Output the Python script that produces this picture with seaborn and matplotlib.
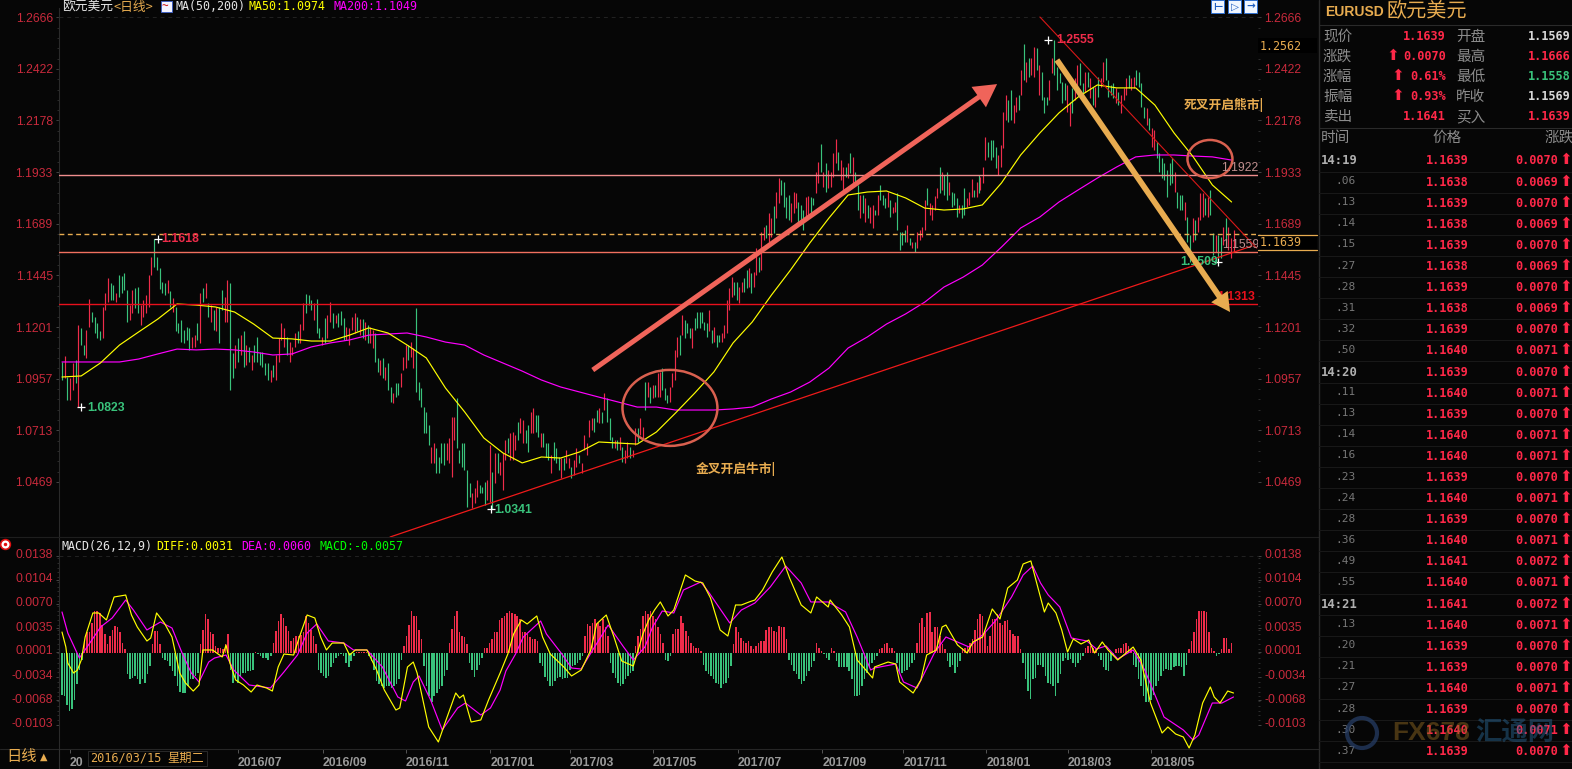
import numpy as np
import pandas as pd
import seaborn as sns
import matplotlib
matplotlib.use("Agg")
import matplotlib.pyplot as plt
from matplotlib.patches import Ellipse, Rectangle
from matplotlib.lines import Line2D
from matplotlib.transforms import Affine2D

# ---------- data: prices in 1/10000, (high, low) pairs, r = rising, g = falling ----------
hilo_a = [
 11038,10951, 11062,10959, 10967,10857, 10959,10857, 11030,10904, 11046,10936, 11211,10823, 11195,11117, 11117,11069, 11188,11054,
 11334,11203, 11274,11227, 11250,11172, 11219,11148, 11180,11140, 11295,11148, 11361,11282, 11432,11321, 11408,11329, 11400,11329,
 11361,11321, 11447,11345, 11444,11361, 11455,11377, 11377,11227, 11306,11235, 11377,11266, 11384,11290, 11392,11266, 11306,11211,
 11329,11250, 11353,11266, 11447,11298, 11534,11447, 11618,11487, 11534,11471, 11479,11380, 11416,11361, 11408,11353, 11424,11361,
 11369,11298, 11337,11274, 11298,11180, 11219,11172, 11235,11132, 11188,11125, 11203,11140, 11195,11093, 11156,11101, 11164,11109,
 11219,11140, 11361,11125, 11384,11321, 11408,11337, 11313,11250, 11306,11227, 11282,11188, 11298,11180, 11298,11125, 11377,11282,
 11345,11227, 11424,11227, 11411,10904, 11077,10959, 11117,11006, 11148,11038, 11164,11069, 11180,11014, 11117,11022, 11109,11038,
 11069,10998, 11117,11038, 11156,11038, 11085,11022, 11085,11014, 11030,10975, 11030,10951, 10998,10943, 11022,10967, 11069,10951,
 11148,11038, 11222,11140, 11195,11109, 11156,11069, 11132,11038, 11109,11069, 11172,11109, 11180,11125, 11216,11125, 11313,11188,
 11358,11266, 11353,11306, 11329,11282, 11313,11235, 11334,11172, 11195,11148, 11156,11117, 11243,11125, 11258,11148, 11321,11227,
 11266,11195, 11258,11219, 11266,11203, 11277,11211, 11243,11140, 11203,11140, 11195,11117, 11247,11188, 11266,11172, 11247,11180]
dirs_a = ("grgrrgrggr" "rggggrrrgg" "rggggrrggr" "rrrrgggggr" "grggggggrr"
          "grgrgrgrgg" "rrggrgrgrg" "rggggggrgr" "rrrgrrrgrr" "gggrggrgrr" "grgggrrrrg")

hilo_b = [
 11238,11164, 11238,11148, 11227,11140, 11211,11124, 11203,11124, 11187,11101, 11172,11038, 11053,10990, 11045,10975, 11053,10959,
 11014,10951, 11030,10904, 10920,10849, 10888,10841, 10935,10872, 10935,10880, 10982,10920, 11061,10998, 11116,11006, 11116,11045,
 11132,11061, 11101,11006, 11290,10896, 10943,10856, 10912,10825, 10825,10699, 10801,10699, 10738,10644, 10636,10557, 10652,10557,
 10628,10510, 10589,10510, 10652,10557, 10652,10549, 10652,10573, 10675,10557, 10778,10494, 10778,10668, 10864,10628, 10620,10557,
 10652,10542, 10652,10526, 10526,10352, 10463,10400, 10416,10345, 10439,10368, 10479,10400, 10455,10416, 10447,10416, 10471,10360,
 10479,10384, 10644,10376, 10518,10341, 10604,10463, 10604,10510, 10565,10502, 10604,10431, 10668,10573, 10675,10604, 10699,10573,
 10707,10573, 10691,10620, 10754,10668, 10770,10699, 10762,10652, 10715,10652, 10738,10612, 10801,10699, 10817,10699, 10786,10707,
 10786,10683, 10699,10636, 10699,10636, 10652,10589, 10652,10573, 10597,10510, 10660,10573, 10628,10557, 10589,10526, 10581,10486,
 10581,10526, 10620,10557, 10581,10534, 10542,10486, 10573,10502, 10628,10542, 10597,10557, 10557,10510, 10691,10620, 10652,10597,
 10762,10683, 10770,10715, 10770,10707, 10809,10754, 10817,10746, 10801,10746, 10891,10809, 10864,10754, 10770,10668, 10683,10628,
 10668,10628, 10668,10620, 10683,10620, 10636,10565, 10620,10557, 10660,10581, 10636,10581, 10620,10589, 10723,10644, 10723,10660,
 10770,10691, 10731,10668, 10943,10809, 10943,10872, 10920,10841, 10927,10864, 10927,10872, 10982,10872]
dirs_b = ("rgrgrrggrg" "rggrggrrrg" "rrggggggrr" "ggggrrrrgg" "ggggrrrggg" "rrgrgrrrgr"
          "rrgrrggrrg" "grgggrgggr" "grrgrrgrrr" "rrggrgrggg" "rgrgrrgrrg" "rrgrgrgr")

hilo_c = [
 10990,10872, 11006,10904, 10912,10857, 10880,10841, 10920,10849, 10982,10920, 11093,10951, 11156,11061, 11164,11069, 11258,11164,
 11235,11148, 11219,11172, 11195,11148, 11195,11101, 11242,11187, 11274,11195, 11274,11195, 11274,11219, 11227,11187, 11219,11156,
 11282,11180, 11187,11124, 11203,11132, 11164,11108, 11164,11132, 11172,11132, 11211,11148, 11329,11172, 11384,11281, 11439,11345,
 11415,11352, 11415,11329, 11392,11313, 11415,11368, 11431,11368, 11471,11384, 11478,11392, 11455,11360, 11463,11392, 11573,11447,
 11533,11463, 11652,11471, 11675,11612, 11683,11620, 11738,11604, 11715,11628, 11773,11644, 11841,11715, 11904,11785, 11896,11825,
 11888,11770, 11817,11715, 11825,11707, 11785,11699, 11841,11738, 11833,11762, 11793,11691, 11778,11707, 11754,11660, 11817,11715,
 11820,11730, 11817,11738, 11809,11778, 11935,11833, 11982,11880, 12066,11935, 11935,11864, 11975,11841, 11943,11856, 11935,11864,
 12022,11912, 12088,11975, 12030,11943, 11990,11896, 11959,11833, 11959,11912, 11975,11904, 12025,11927, 12006,11864, 11935,11872,
 11872,11754, 11825,11715, 11825,11738, 11809,11699, 11778,11715, 11770,11691, 11778,11667, 11754,11730, 11825,11730, 11872,11801,
 11825,11778, 11809,11762, 11841,11770, 11801,11723, 11770,11738, 11793,11746, 11833,11660, 11652,11565, 11652,11589, 11660,11604,
 11683,11604, 11620,11589, 11604,11573, 11604,11557, 11652,11573, 11660,11612, 11675,11628, 11801,11660, 11856,11778, 11785,11730,
 11778,11707, 11820,11754, 11856,11809, 11959,11833, 11935,11848, 11919,11825, 11935,11801, 11888,11825, 11841,11770, 11833,11778,
 11809,11723, 11778,11738, 11778,11715, 11856,11730, 11809,11770, 11841,11778, 11899,11817, 11849,11817, 11888,11817, 11919,11833]
dirs_c = ("rgggrrrrgr" "gggrgggggg" "rgrggrrrrr" "ggrrggrgrr" "grrgrrgrrg" "gggrrrgggr" "rggrrgrgrr"
          "rrgrrgrgrg" "grgrgrrgrg" "ggrgrrgggg" "rgrgrrrrgr" "rrrgrggrgg" "grggrrrgrg")

hilo_d = [
 11912,11849, 11959,11880, 12101,11990, 12077,12006, 12085,11990, 12085,12006, 12054,11951, 12014,11920, 12061,11959, 12219,12046,
 12298,12179, 12274,12172, 12321,12179, 12250,12164, 12290,12219, 12298,12227, 12416,12298, 12539,12369, 12455,12361, 12471,12384,
 12471,12392, 12523,12384, 12518,12416, 12439,12298, 12408,12274, 12290,12211, 12290,12250, 12368,12274, 12471,12400, 12555,12392,
 12431,12321, 12400,12353, 12361,12258, 12353,12274, 12345,12219, 12266,12151, 12329,12211, 12376,12274, 12439,12313, 12447,12345,
 12353,12266, 12408,12313, 12408,12337, 12376,12282, 12337,12250, 12337,12243, 12384,12290, 12376,12337, 12455,12361, 12471,12369,
 12369,12290, 12345,12298, 12353,12282, 12329,12258, 12313,12250, 12298,12214, 12329,12274, 12376,12298, 12392,12329, 12376,12321,
 12384,12329, 12416,12345, 12408,12337, 12353,12243, 12243,12187, 12235,12156, 12187,12132, 12140,12054, 12132,12038, 12077,11998,
 12022,11935, 11998,11904, 11975,11896, 11943,11817, 11975,11872, 11998,11880, 11935,11841, 11841,11762, 11825,11754, 11825,11754,
 11794,11707, 11723,11605, 11636,11509, 11715,11605, 11707,11612, 11723,11652, 11833,11707, 11833,11723, 11809,11731, 11817,11723,
 11849,11731, 11644,11542, 11636,11557, 11636,11534, 11628,11526, 11675,11589, 11715,11581, 11675,11565, 11620,11526, 11660,11557]
dirs_d = ("rrrggggrrr" "rggrrgrgrg" "rrgrgggrrg" "ggggrrgrrg" "grgrgrgrrg" "gggrgrrrgr"
          "rggggrgrrg" "ggggggrggg" "rggrgrrrgr" "ggrggrgrrr")

ma50 = [10965,10970,11031,11116,11178,11239,11310,11305,11296,11272,11215,11149,
        11145,11135,11135,11163,11197,11173,11116,11055,10913,10800,10677,10606,10559,10587,10582,10611,10658,10653,10648,10705,
        10795,10889,10989,11126,11225,11352,11471,11598,11716,11825,11839,11844,11811,11763,11754,11759,
        11778,11882,12014,12118,12213,12288,12345,12331,12331,12250,12118,12005,11872,11792]
ma200 = [11036,11036,11036,11036,11050,11074,11097,11093,11097,11093,11083,11069,
         11074,11107,11126,11140,11163,11168,11173,11154,11130,11116,11069,11031,10993,10951,10918,10894,10870,10847,10823,10823,
         10809,10809,10809,10814,10823,10861,10894,10941,11007,11102,11154,11215,11263,11319,11390,11437,
         11494,11579,11669,11721,11792,11849,11905,11957,12005,12014,12014,12009,12005,11990]

# MACD lines: bar index and value (1/100000)
diff_bars = [0,2,3,6,8,10,12,16,19,23,27,33,36,39,44,46,49,53,57,61,64,68,71,73,78,83,85,87,90,94,98,101,106,109,112,115,120,123,127,131,
 134,137,140,146,149,152,158,163,167,173,175,179,182,184,190,195,199,204,206,208,212,217,221,223,227,231,234,238,241,246,249,253,260,264,269,274,277,282,286,290,
 296,301,304,307,310,314,317,323,328,332,336,341,345,349,352,356,359,363,368,373,377,383,388,391,397,398,404,408,412,420,421,428,432,434,441,445,448,453,456,458,
 464,469,472,477,482,486,490,495,498,502,506,509,511,515,518,521,524,528,532,535,539,542,547,555,559,564,570,573,577,581,584,587,591,595,597,600,604,607]
diff_vals = [295,81,-147,-290,-247,-104,224,567,567,467,795,823,538,367,167,210,567,424,224,-290,-432,-547,-461,39,39,-61,110,-147,-390,-461,-561,-461,-504,-547,-204,-19,-33,224,538,495,
 224,39,138,138,-33,39,39,-247,-532,-818,-789,-204,-133,-290,-1060,-1274,-960,-575,-646,-604,-989,-960,-675,-547,-290,-19,267,467,410,524,224,-19,-204,-332,-247,39,410,538,224,-118,
 -190,267,467,609,724,524,609,1109,1023,995,781,324,238,681,681,724,752,895,1152,1366,1066,681,567,795,652,752,538,367,-104,-361,-204,-133,-161,-418,-575,-390,-33,39,367,395,
 110,-4,153,224,624,481,923,1037,1266,1309,895,581,709,567,324,10,195,124,181,-4,153,39,-104,81,-104,-718,-1146,-1060,-1160,-1203,-1360,-1174,-718,-489,-632,-718,-547,-575]
dea_bars = [0,3,9,13,20,26,33,37,44,51,57,62,67,71,76,79,85,89,97,108,115,122,127,132,138,146,151,158,166,174,178,182,185,191,197,205,209,217,222,227,
 230,235,239,248,251,259,264,269,275,283,291,296,302,306,311,317,322,331,335,346,352,359,367,375,383,388,397,406,412,419,421,432,436,443,452,458,470,478,484,492,
 498,503,507,511,517,523,531,536,541,547,555,561,571,581,586,589,596,601,607]
dea_vals = [581,281,-76,81,367,495,752,609,324,438,352,10,-290,-418,-133,-76,-33,-247,-461,-504,-275,-33,281,410,167,138,39,39,-204,-632,-689,-418,-332,-675,-1103,-789,-718,-889,-789,-532,
 -261,-19,224,452,267,-19,-218,-233,39,395,81,-104,81,367,595,567,895,1009,866,424,609,709,938,1237,995,724,724,581,224,-247,-218,-161,-418,-504,-4,224,81,281,467,795,
 1109,1237,995,824,652,210,167,53,96,-90,39,-247,-918,-1103,-1246,-1174,-718,-718,-632]

# MACD histogram (1/10000)
macd_hist = [-60,-62,-74,-83,-81,-67,-45,-25,-10, 17,29,29,43,60,60,57,40,26,12,24,33,38,36,29,14,5,
 -31,-38,-36,-33,-38,-44,-38,-43,-31,-19, 12,31,31,12, -7,-10,-12,-19,-26,-33,-48,-56,-57,-58,-48,-38,-38,-33,-29,
 12,33,55,48,29,26,10,7,7,5,12,26, -24,-43,-36,-43,-33,-29,-29,-26,-26,-24, 1,-2,-4,-7,-7,-10,-5,
 14,31,45,55,50,38,31,17,21,24,24,25,29,52,43,33,24,12, -24,-29,-33,-36,-33,-21,-14,-7,-4,-2,-4,-14,-21,-12,-4, 1,1,1,1,1,
 -5,-12,-24,-40,-45,-48,-50,-48,-48,-50,-48,-45,-38,-10, 10,24,40,60,52,52,33,19, -19,-48,-62,-71,-62,-57,-52,-48,-33,-24,
 14,34,53,60,29,24,23,13, -14,-24,-34,-24,-17,-7, 6,6,14,19,29,29,46,50,52,57,60,57,55,53,48,29,29,26,22,19,20,17,
 -14,-19,-34,-41,-48,-48,-41,-36,-34,-38,-36,-36,-24,-19,-17,-14,-10,-5, 24,41,38,43,48,43,38,48,36,24,
 -14,-29,-36,-43,-48,-45,-38,-33,-29,-26, 10,24,34,53,60,55,60,52,48,36,26,14, -10,-12,-5,
 26,34,34,52,43,31,24,14,10,7,7,2, -17,-26,-31,-33,-38,-43,-45,-50,-45,-43,-36,-19,
 12,37,29,21,17,14,17,10,5,10,14,17,17,33,36,36,31,29,38,36,37,19, -10,-17,-26,-31,-38,-45,-40,-33,-26,-21,-12, 14,7,2,-2,-7,-10,7,2,
 -12,-21,-21,-21,-21,-26,-38,-62,-62,-60,-48,-38,-29,-21,-14,-10,-5, 5,7,12,14,7,7,2, -14,-29,-29,-26,-24,-21,-14,-10,
 14,43,49,37,57,58,29,37,36,24,12,5, -12,-21,-17,-29,-21,-12, 7,7,10,14,19,33,48,55,52,29,10, 24,48,48,55,43,40,45,47,33,26,24,24,5,
 -14,-38,-55,-66,-38,-36,-17,-17,-21,-33,-43,-45,-48,-62,-43,-31,-12,
 -7,-10,-9,-14,-21,-14,-10,-5,7,10,10,7,5,-5,-10,-21,-24,-26,-12,-5,5,7,7,12,14,10,5,
 -17,-21,-38,-48,-62,-71,-71,-67,-60,-48,-40,-33,-26,-23,-24,-24,-21,-19,-19,-21,-33,-17,
 5,17,29,48,60,60,60,58,29,7,2, -5,-2, 5,21,21,5,14]

price_ticks = [1.2666,1.2422,1.2178,1.1933,1.1689,1.1445,1.1201,1.0957,1.0713,1.0469]
macd_ticks = [0.0138,0.0104,0.0070,0.0035,0.0001,-0.0034,-0.0068,-0.0103]
month_bars = [4,91,135,178,222,263,306,350,394,436,479,521,564]
month_labels = ["20","2016/07","2016/09","2016/11","2017/01","2017/03","2017/05","2017/07","2017/09","2017/11","2018/01","2018/03","2018/05"]

quote_left = [("现价","1.1639"),("涨跌","0.0070"),("涨幅","0.61%"),("振幅","0.93%"),("卖出","1.1641")]
quote_arrows = [None, 1393, 1398, 1398, None]
quote_right = [("开盘","1.1569"),("最高","1.1666"),("最低","1.1558"),("昨收","1.1569"),("买入","1.1639")]
tick_times = ["14:19",".06",".13",".14",".15",".27",".28",".31",".32",".50","14:20",".11",".13",".14",".16",".23",".24",".28",".36",".49",".55","14:21",".13",".20",".21",".27",".28",".30",".37"]
tick_prices = ["1.1639","1.1638","1.1639","1.1638","1.1639","1.1638","1.1639","1.1638","1.1639","1.1640","1.1639","1.1640","1.1639","1.1640","1.1640","1.1639","1.1640","1.1639","1.1640","1.1641","1.1640","1.1641","1.1640","1.1639","1.1639","1.1640","1.1639","1.1640","1.1639"]
tick_changes = ["0.0070","0.0069","0.0070","0.0069","0.0070","0.0069","0.0070","0.0069","0.0070","0.0071","0.0070","0.0071","0.0070","0.0071","0.0071","0.0070","0.0071","0.0070","0.0071","0.0072","0.0071","0.0072","0.0071","0.0070","0.0070","0.0071","0.0070","0.0071","0.0070"]

# ---------- style ----------
BG = "#060606"; RED = "#ee2c4a"; GREEN = "#39c27b"; LABEL_RED = "#c92a3c"; ORANGE = "#e8ac50"; SALMON = "#ee6a5c"
TBL_RED = "#ff2848"; GREY = "#8c8c8c"
sns.set_theme(style="dark", rc={"axes.facecolor": BG, "figure.facecolor": BG, "savefig.facecolor": BG})
plt.rcParams["font.family"] = ["Liberation Sans", "Noto Sans CJK SC", "DejaVu Sans"]
MONO = ["DejaVu Sans Mono", "Noto Sans CJK SC"]
CJK = ["Noto Sans CJK SC", "DejaVu Sans"]

W, H = 1572, 769
fig = plt.figure(figsize=(W / 100, H / 100), dpi=100)

def rect(x0, y0, x1, y1):
    return [x0 / W, 1 - y1 / H, (x1 - x0) / W, (y1 - y0) / H]

ax = fig.add_axes(rect(59, 8, 1258, 537))
axm = fig.add_axes(rect(59, 537, 1258, 749))

bar_of = lambda px: (px - 62) / 1.93
price_of = lambda py: 1.2666 - (py - 17) * 0.0004725
ax.set_xlim(bar_of(59), bar_of(1258)); ax.set_ylim(price_of(537), price_of(8))
axm.set_xlim(bar_of(59), bar_of(1258))
macd_of = lambda py: 0.0001 - (py - 652) * 0.0001427
axm.set_ylim(macd_of(749), macd_of(537))

# ---------- candles ----------
for data, dirs, b0, b1 in [(hilo_a, dirs_a, 0, 153), (hilo_b, dirs_b, 154.4, 308.8),
                           (hilo_c, dirs_c, 309.8, 475.2), (hilo_d, dirs_d, 475.8, 607)]:
    arr = np.array(data).reshape(-1, 2) / 1e4
    xs = np.linspace(b0, b1, len(arr))
    cols = [RED if c == "r" else GREEN for c in dirs.ljust(len(arr), "g")[:len(arr)]]
    ax.vlines(xs, arr[:, 1], arr[:, 0], colors=cols, linewidth=0.85, zorder=2)

# ---------- moving averages ----------
ma_x = np.linspace(0, 606, len(ma50))
frame = pd.DataFrame({"bar": ma_x, "ma50": np.array(ma50) / 1e4, "ma200": np.array(ma200) / 1e4})
sns.lineplot(data=frame, x="bar", y="ma200", ax=ax, color="#ff00ff", linewidth=0.85, estimator=None, sort=False, zorder=3)
sns.lineplot(data=frame, x="bar", y="ma50", ax=ax, color="#ffff00", linewidth=0.85, estimator=None, sort=False, zorder=3)

# ---------- horizontal levels, trend lines, annotations ----------
ax.axhline(1.2666, color="#222222", lw=0.7, ls=(0, (4, 4)), zorder=1)
ax.axhline(1.1922 - 0.0003, color="#ef8d8d", lw=1.0, zorder=3)
ax.axhline(1.1639, color=ORANGE, lw=1.0, ls=(0, (3.5, 2.5)), zorder=3)
ax.axhline(1.1559 - 0.0003, color="#f0705f", lw=1.0, zorder=3)
ax.axhline(1.1313 - 0.0003, color="#e8101c", lw=1.0, zorder=3)
ax.plot([170, 616.6], [1.0209, 1.1584], color="#f01a1a", lw=0.9, zorder=4)
ax.plot([506.7, 619], [1.2666, 1.1574], color="#d81818", lw=0.8, zorder=4)
ax.add_patch(Ellipse((315, 1.0819), 49.2, 0.0359, fill=False, ec="#d9604f", lw=1.8, zorder=5))
ax.add_patch(Ellipse((594.8, 1.1995), 23.3, 0.0180, fill=False, ec="#d9604f", lw=1.8, zorder=5))
ax.annotate("", xy=(484.5, 1.2349), xytext=(275, 1.0998),
            arrowprops=dict(arrowstyle="simple,head_length=0.9,head_width=1.0,tail_width=0.2", mutation_scale=18,
                            fc="#f0645a", ec="none", shrinkA=0, shrinkB=0), zorder=7)
ax.annotate("", xy=(605.2, 1.1272), xytext=(515.5, 1.2463),
            arrowprops=dict(arrowstyle="simple,head_length=0.75,head_width=0.8,tail_width=0.23", mutation_scale=18,
                            fc=ORANGE, ec="none", shrinkA=0, shrinkB=0), zorder=7)

def ptext(px, py, s, color, size=8.8, weight="bold", ha="left", family=None, z=6):
    ax.text(bar_of(px), price_of(py), s, color=color, fontsize=size, fontweight=weight, ha=ha, va="center",
            family=family if family else plt.rcParams["font.family"], zorder=z)

for b, p in [(49.5, 1.1618), (511, 1.2555), (222.5, 1.0341), (10, 1.0823), (599, 1.1509)]:
    ax.plot([b], [p], marker="+", ms=5.5, mew=0.9, color="white", zorder=6)
ptext(161, 239, "1.1618", RED)
ptext(1056, 40, "1.2555", RED)
ptext(494, 510, "1.0341", GREEN)
ptext(87, 408, "1.0823", GREEN)
ptext(1180, 262, "1.1509", GREEN)
ptext(1221, 168, "1.1922", "#c08f8f", weight="normal")
ptext(1222, 245, "1.1559", "#c08f8f", weight="normal")
ptext(1217, 297, "1.1313", "#e8101c")
ptext(696, 469, "金叉开启牛市|", ORANGE, size=9.2, family=CJK)
ptext(1184, 105, "死叉开启熊市|", ORANGE, size=9.2, family=CJK)

# ---------- MACD panel ----------
hx = np.linspace(0, 606, len(macd_hist))
hv = np.array(macd_hist) / 1e4
axm.bar(hx, hv, width=0.8, color=[RED if v > 0 else GREEN for v in hv], linewidth=0, zorder=2)
sns.lineplot(x=np.array(dea_bars), y=np.array(dea_vals) / 1e5, ax=axm, color="#ff00ff", linewidth=0.85, estimator=None, sort=False, zorder=3)
sns.lineplot(x=np.array(diff_bars), y=np.array(diff_vals) / 1e5, ax=axm, color="#ffff00", linewidth=0.85, estimator=None, sort=False, zorder=4)
axm.axhline(0.0138, color="#222222", lw=0.7, ls=(0, (4, 4)), zorder=1)

# ---------- axes cosmetics ----------
for a, vals, fmt in [(ax, price_ticks, "{:.4f}"), (axm, macd_ticks, "{:.4f}")]:
    a.set_xlabel(""); a.set_ylabel("")
    a.grid(False)
    for s in a.spines.values():
        s.set_visible(False)
    a.spines["left"].set_visible(True); a.spines["left"].set_color("#2a2a2a"); a.spines["left"].set_linewidth(0.8)
    a.set_yticks(vals)
    a.set_yticklabels([fmt.format(v) for v in vals])
    a.tick_params(axis="y", which="major", left=True, right=True, labelleft=True, labelright=True, length=2.5, width=0.7,
                  color="#444444", pad=2, labelsize=8.7, labelcolor=LABEL_RED)
    step = abs(vals[1] - vals[0]) / 5
    a.set_yticks(np.arange(min(vals), max(vals) + step / 2, step), minor=True)
    a.tick_params(axis="y", which="minor", left=True, right=True, length=1.2, width=0.6, color="#333333")
ax.set_xticks([])
axm.set_xticks(month_bars)
axm.set_xticklabels(month_labels, ha="left", fontweight="bold", fontsize=8.8, color="#9a9a9a")
axm.tick_params(axis="x", bottom=True, length=3, width=0.7, color="#555555", pad=2.5, labelbottom=True)
for t in axm.yaxis.get_major_ticks():
    for lab in (t.label1, t.label2):
        lab.set_transform(lab.get_transform() + Affine2D().translate(0, 2))

# ---------- figure-level texts in pixel coordinates ----------
def ft(px, py, s, color, size=8.6, weight="normal", ha="left", family=None, z=8, alpha=None):
    fig.text(px / W, 1 - py / H, s, color=color, fontsize=size, fontweight=weight, ha=ha, va="center",
             family=family if family else plt.rcParams["font.family"], zorder=z, alpha=alpha)

def hline(x0, x1, y, color, lw=0.8, z=3):
    fig.add_artist(Line2D([x0 / W, x1 / W], [1 - y / H, 1 - y / H], color=color, lw=lw, zorder=z))

def vline(x, y0, y1, color, lw=0.8, z=3):
    fig.add_artist(Line2D([x / W, x / W], [1 - y0 / H, 1 - y1 / H], color=color, lw=lw, zorder=z))

def box(x0, y0, x1, y1, fc, ec="none", lw=0.8, z=7):
    fig.add_artist(Rectangle((x0 / W, 1 - y1 / H), (x1 - x0) / W, (y1 - y0) / H, fc=fc, ec=ec, lw=lw,
                             transform=fig.transFigure, zorder=z))

def up_arrow(px, py):
    ft(px, py - 1, "⬆", TBL_RED, 11, ha="center", family=["DejaVu Sans"])

# header
ft(62, 7, "欧元美元", "#e6e6e6", 9.2, family=CJK)
ft(113, 7, "<日线>", ORANGE, 9.2, family=CJK)
box(161, 1, 172, 12, "#f4f4ff", "#4060c0", 0.7)
ft(162, 7, "~", "#d02020", 8, weight="bold")
ft(175, 7, "MA(50,200)", "#e6e6e6", 8.4, family=MONO)
ft(249, 7, "MA50:1.0974", "#ffff00", 8.4, family=MONO)
ft(333, 7, "MA200:1.1049", "#ff00ff", 8.4, family=MONO)
# MACD header
ft(61, 546, "MACD(26,12,9)", "#e6e6e6", 8.4, family=MONO)
ft(156, 546, "DIFF:0.0031", "#ffff00", 8.4, family=MONO)
ft(241, 546, "DEA:0.0060", "#ff00ff", 8.4, family=MONO)
ft(319, 546, "MACD:-0.0057", "#00ff00", 8.4, family=MONO)
# record marker
fig.add_artist(Line2D([5 / W], [1 - 544 / H], marker="o", ms=7, mfc="white", mec="#e01010", mew=1.2, zorder=8))
fig.add_artist(Line2D([5 / W], [1 - 544 / H], marker="o", ms=2.5, mfc="#e01010", mec="none", zorder=9))
# separators
hline(0, 1319, 537, "#1e1e1e")
hline(0, 1319, 749, "#262626")
vline(1319, 0, 769, "#2a2a2a", 1.0)
vline(58.5, 749, 769, "#303030")
# bottom controls
ft(6, 757, "日线", ORANGE, 11, family=CJK)
ft(40, 757, "▲", ORANGE, 7, family=["DejaVu Sans"])
box(88, 751, 207, 766, "#050505", "#2a2a2a", 0.7)
ft(90, 758, "2016/03/15", ORANGE, 8.6, family=MONO, z=9)
ft(167, 758, "星期二", ORANGE, 8.8, family=CJK, z=9)
# toolbar buttons
for x0, glyph in [(1211, "⊢"), (1228, "▷"), (1244, "→")]:
    box(x0, 0, x0 + 13, 13, "#f0f6ff", "#3070d0", 0.7)
    ft(x0 + 6.5, 6.5, glyph, "#1c5cc0", 7.5, weight="bold", ha="center", family=["DejaVu Sans"], z=9)
# right-axis boxes
box(1258, 38, 1317, 53, "#000000")
ft(1260, 46, "1.2562", ORANGE, 8.4, family=MONO)
box(1258, 235, 1317, 250, "#000000")
hline(1258, 1317, 235, ORANGE, 0.9, z=8)
hline(1258, 1317, 250, ORANGE, 0.9, z=8)
ft(1260, 243, "1.1639", ORANGE, 8.4, family=MONO)

# quote panel
ft(1325, 12, "EURUSD", ORANGE, 10, weight="bold")
ft(1387, 12, "欧元美元", ORANGE, 14.5, family=CJK)
hline(1319, W, 25, "#2a2a2a")
hline(1319, W, 128, "#2a2a2a")
for i, ((lab1, val1), (lab2, val2)) in enumerate(zip(quote_left, quote_right)):
    y = 37 + 20 * i
    ft(1323, y, lab1, GREY, 10.5, family=CJK)
    ft(1456, y, lab2, GREY, 10.5, family=CJK)
    ft(1446, y, val1, TBL_RED, 8.6, weight="bold", ha="right", family=MONO)
    if quote_arrows[i]:
        up_arrow(quote_arrows[i], y)
    col2 = ["#d8d8d8", TBL_RED, GREEN, "#d8d8d8", TBL_RED][i]
    ft(1571, y, val2, col2, 8.6, weight="bold", ha="right", family=MONO)
ft(1321, 138, "时间", GREY, 10.5, family=CJK)
ft(1447, 138, "价格", GREY, 10.5, ha="center", family=CJK)
ft(1545, 138, "涨跌", GREY, 10.5, family=CJK)

for i, (t, p, c) in enumerate(zip(tick_times, tick_prices, tick_changes)):
    y = 161 + 21.1 * i
    if ":" in t:
        ft(1321, y, t, "#b0b0b0", 8.8, weight="bold", family=MONO)
    else:
        ft(1356, y - 1, t, "#777777", 8, ha="right", family=MONO)
    ft(1447, y, p, TBL_RED, 8.6, weight="bold", ha="center", family=MONO)
    ft(1537, y, c, TBL_RED, 8.6, weight="bold", ha="center", family=MONO)
    up_arrow(1566, y)
    hline(1319, W, y + 10.5, "#191919", 0.7)

# watermark
fig.add_artist(Ellipse((1362 / W, 1 - 733 / H), 30 / W, 30 / H, fill=False, ec="#27406a", lw=3, transform=fig.transFigure, zorder=9, alpha=0.7))
ft(1392, 733, "FX678", "#8a6420", 19, weight="bold", alpha=0.5, z=9)
ft(1475, 733, "汇通网", "#2a6a9a", 19, weight="bold", family=CJK, alpha=0.45, z=9)

fig.savefig("out.png", dpi=100, facecolor=BG)
